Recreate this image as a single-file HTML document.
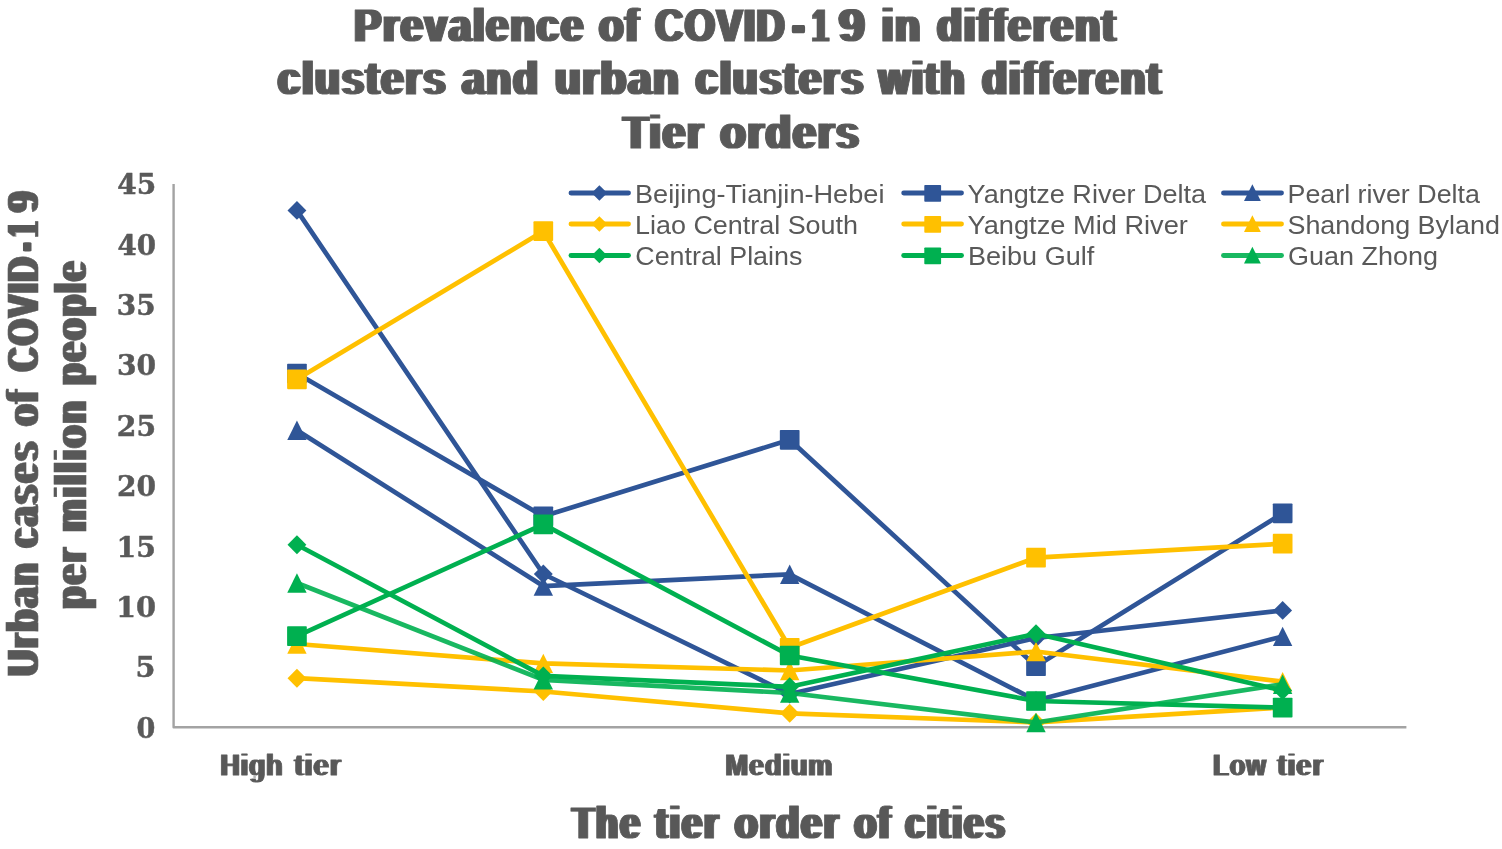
<!DOCTYPE html>
<html lang="en">
<head>
<meta charset="utf-8">
<title>Prevalence of COVID-19 in different clusters and urban clusters with different Tier orders</title>
<style>
html,body{margin:0;padding:0;background:#fff;}
body{width:1502px;height:849px;overflow:hidden;}
svg{display:block;}
</style>
</head>
<body>
<svg width="1502" height="849" viewBox="0 0 1502 849" role="img" aria-label="Line chart">
<rect width="1502" height="849" fill="#fff"/>
<polyline points="173.6,184.0 173.6,727.2 1406.4,727.2" fill="none" stroke="#A3A3A3" stroke-width="2.4" stroke-linejoin="round"/>
<g><polyline points="296.95,210.4 543.30,574.0 789.70,694.0 1036.00,638.0 1282.65,610.4" fill="none" stroke="#2F5597" stroke-width="4.7" stroke-linejoin="round" stroke-linecap="round"/>
<path d="M287.50 210.40L296.95 200.95L306.40 210.40L296.95 219.85Z" fill="#2F5597"/>
<path d="M533.85 574.00L543.30 564.55L552.75 574.00L543.30 583.45Z" fill="#2F5597"/>
<path d="M780.25 694.00L789.70 684.55L799.15 694.00L789.70 703.45Z" fill="#2F5597"/>
<path d="M1026.55 638.00L1036.00 628.55L1045.45 638.00L1036.00 647.45Z" fill="#2F5597"/>
<path d="M1273.20 610.40L1282.65 600.95L1292.10 610.40L1282.65 619.85Z" fill="#2F5597"/>
</g>
<g><polyline points="296.95,373.5 543.30,516.3 789.70,439.8 1036.00,666.2 1282.65,513.3" fill="none" stroke="#2F5597" stroke-width="4.7" stroke-linejoin="round" stroke-linecap="round"/>
<rect x="287.10" y="363.65" width="19.70" height="19.70" rx="0.8" fill="#2F5597"/>
<rect x="533.45" y="506.45" width="19.70" height="19.70" rx="0.8" fill="#2F5597"/>
<rect x="779.85" y="429.95" width="19.70" height="19.70" rx="0.8" fill="#2F5597"/>
<rect x="1026.15" y="656.35" width="19.70" height="19.70" rx="0.8" fill="#2F5597"/>
<rect x="1272.80" y="503.45" width="19.70" height="19.70" rx="0.8" fill="#2F5597"/>
</g>
<g><polyline points="296.95,430.2 543.30,586.1 789.70,574.3 1036.00,700.5 1282.65,636.4" fill="none" stroke="#2F5597" stroke-width="4.7" stroke-linejoin="round" stroke-linecap="round"/>
<path d="M296.95 420.50L306.65 439.90L287.25 439.90Z" fill="#2F5597"/>
<path d="M543.30 576.40L553.00 595.80L533.60 595.80Z" fill="#2F5597"/>
<path d="M789.70 564.60L799.40 584.00L780.00 584.00Z" fill="#2F5597"/>
<path d="M1036.00 690.80L1045.70 710.20L1026.30 710.20Z" fill="#2F5597"/>
<path d="M1282.65 626.70L1292.35 646.10L1272.95 646.10Z" fill="#2F5597"/>
</g>
<g><polyline points="296.95,678.2 543.30,691.5 789.70,713.3 1036.00,722.4 1282.65,707.4" fill="none" stroke="#FFC000" stroke-width="4.7" stroke-linejoin="round" stroke-linecap="round"/>
<path d="M287.50 678.20L296.95 668.75L306.40 678.20L296.95 687.65Z" fill="#FFC000"/>
<path d="M533.85 691.50L543.30 682.05L552.75 691.50L543.30 700.95Z" fill="#FFC000"/>
<path d="M780.25 713.30L789.70 703.85L799.15 713.30L789.70 722.75Z" fill="#FFC000"/>
<path d="M1026.55 722.40L1036.00 712.95L1045.45 722.40L1036.00 731.85Z" fill="#FFC000"/>
<path d="M1273.20 707.40L1282.65 697.95L1292.10 707.40L1282.65 716.85Z" fill="#FFC000"/>
</g>
<g><polyline points="296.95,379.3 543.30,231.2 789.70,647.8 1036.00,557.7 1282.65,543.7" fill="none" stroke="#FFC000" stroke-width="4.7" stroke-linejoin="round" stroke-linecap="round"/>
<rect x="287.10" y="369.45" width="19.70" height="19.70" rx="0.8" fill="#FFC000"/>
<rect x="533.45" y="221.35" width="19.70" height="19.70" rx="0.8" fill="#FFC000"/>
<rect x="779.85" y="637.95" width="19.70" height="19.70" rx="0.8" fill="#FFC000"/>
<rect x="1026.15" y="547.85" width="19.70" height="19.70" rx="0.8" fill="#FFC000"/>
<rect x="1272.80" y="533.85" width="19.70" height="19.70" rx="0.8" fill="#FFC000"/>
</g>
<g><polyline points="296.95,644.0 543.30,663.4 789.70,670.5 1036.00,651.5 1282.65,681.7" fill="none" stroke="#FFC000" stroke-width="4.7" stroke-linejoin="round" stroke-linecap="round"/>
<path d="M296.95 634.30L306.65 653.70L287.25 653.70Z" fill="#FFC000"/>
<path d="M543.30 653.70L553.00 673.10L533.60 673.10Z" fill="#FFC000"/>
<path d="M789.70 660.80L799.40 680.20L780.00 680.20Z" fill="#FFC000"/>
<path d="M1036.00 641.80L1045.70 661.20L1026.30 661.20Z" fill="#FFC000"/>
<path d="M1282.65 672.00L1292.35 691.40L1272.95 691.40Z" fill="#FFC000"/>
</g>
<g><polyline points="296.95,544.7 543.30,675.9 789.70,686.8 1036.00,633.8 1282.65,690.5" fill="none" stroke="#00B050" stroke-width="4.7" stroke-linejoin="round" stroke-linecap="round"/>
<path d="M287.50 544.70L296.95 535.25L306.40 544.70L296.95 554.15Z" fill="#00B050"/>
<path d="M533.85 675.90L543.30 666.45L552.75 675.90L543.30 685.35Z" fill="#00B050"/>
<path d="M780.25 686.80L789.70 677.35L799.15 686.80L789.70 696.25Z" fill="#00B050"/>
<path d="M1026.55 633.80L1036.00 624.35L1045.45 633.80L1036.00 643.25Z" fill="#00B050"/>
<path d="M1273.20 690.50L1282.65 681.05L1292.10 690.50L1282.65 699.95Z" fill="#00B050"/>
</g>
<g><polyline points="296.95,636.1 543.30,524.4 789.70,655.5 1036.00,701.0 1282.65,707.6" fill="none" stroke="#00B050" stroke-width="4.7" stroke-linejoin="round" stroke-linecap="round"/>
<rect x="287.10" y="626.25" width="19.70" height="19.70" rx="0.8" fill="#00B050"/>
<rect x="533.45" y="514.55" width="19.70" height="19.70" rx="0.8" fill="#00B050"/>
<rect x="779.85" y="645.65" width="19.70" height="19.70" rx="0.8" fill="#00B050"/>
<rect x="1026.15" y="691.15" width="19.70" height="19.70" rx="0.8" fill="#00B050"/>
<rect x="1272.80" y="697.75" width="19.70" height="19.70" rx="0.8" fill="#00B050"/>
</g>
<g><polyline points="296.95,583.0 543.30,679.8 789.70,693.0 1036.00,722.5 1282.65,684.2" fill="none" stroke="#00B050" stroke-opacity="0.9" stroke-width="4.7" stroke-linejoin="round" stroke-linecap="round"/>
<path d="M296.95 573.30L306.65 592.70L287.25 592.70Z" fill="#00B050"/>
<path d="M543.30 670.10L553.00 689.50L533.60 689.50Z" fill="#00B050"/>
<path d="M789.70 683.30L799.40 702.70L780.00 702.70Z" fill="#00B050"/>
<path d="M1036.00 712.80L1045.70 732.20L1026.30 732.20Z" fill="#00B050"/>
<path d="M1282.65 674.50L1292.35 693.90L1272.95 693.90Z" fill="#00B050"/>
</g>
<line x1="571.0" y1="193.0" x2="628.5" y2="193.0" stroke="#2F5597" stroke-width="4.9" stroke-linecap="round"/>
<path d="M591.60 193.00L599.40 185.20L607.20 193.00L599.40 200.80Z" fill="#2F5597"/>
<line x1="571.0" y1="224.0" x2="628.5" y2="224.0" stroke="#FFC000" stroke-width="4.9" stroke-linecap="round"/>
<path d="M591.60 224.00L599.40 216.20L607.20 224.00L599.40 231.80Z" fill="#FFC000"/>
<line x1="571.0" y1="255.5" x2="628.5" y2="255.5" stroke="#00B050" stroke-width="4.9" stroke-linecap="round"/>
<path d="M591.60 255.50L599.40 247.70L607.20 255.50L599.40 263.30Z" fill="#00B050"/>
<line x1="903.7" y1="193.0" x2="961.5" y2="193.0" stroke="#2F5597" stroke-width="4.9" stroke-linecap="round"/>
<rect x="924.30" y="184.90" width="16.80" height="16.80" rx="0.8" fill="#2F5597"/>
<line x1="903.7" y1="224.0" x2="961.5" y2="224.0" stroke="#FFC000" stroke-width="4.9" stroke-linecap="round"/>
<rect x="924.30" y="215.90" width="16.80" height="16.80" rx="0.8" fill="#FFC000"/>
<line x1="903.7" y1="255.5" x2="961.5" y2="255.5" stroke="#00B050" stroke-width="4.9" stroke-linecap="round"/>
<rect x="924.30" y="247.40" width="16.80" height="16.80" rx="0.8" fill="#00B050"/>
<line x1="1223.5" y1="193.0" x2="1281.5" y2="193.0" stroke="#2F5597" stroke-width="4.9" stroke-linecap="round"/>
<path d="M1252.40 184.20L1260.80 201.00L1244.00 201.00Z" fill="#2F5597"/>
<line x1="1223.5" y1="224.0" x2="1281.5" y2="224.0" stroke="#FFC000" stroke-width="4.9" stroke-linecap="round"/>
<path d="M1252.40 215.20L1260.80 232.00L1244.00 232.00Z" fill="#FFC000"/>
<line x1="1223.5" y1="255.5" x2="1281.5" y2="255.5" stroke="#00B050" stroke-opacity="0.9" stroke-width="4.9" stroke-linecap="round"/>
<path d="M1252.40 246.70L1260.80 263.50L1244.00 263.50Z" fill="#00B050"/>
<filter id="h21" filterUnits="userSpaceOnUse" x="0" y="0" width="1502" height="849"><feMorphology operator="dilate" radius="2 0"/><feMorphology operator="erode" radius="0 1"/></filter>
<g filter="url(#h21)">
<text y="42.20" font-family="'Liberation Sans', sans-serif" font-weight="bold" font-size="48.84" fill="#595959" letter-spacing="2.5" stroke="#595959" stroke-width="1.0" stroke-linejoin="round"><tspan x="354.59" textLength="230.54" lengthAdjust="spacingAndGlyphs">Prevalence</tspan> <tspan x="599.19" textLength="41.28" lengthAdjust="spacingAndGlyphs">of</tspan> <tspan x="655.48" textLength="130.94" lengthAdjust="spacingAndGlyphs">COVID</tspan><tspan x="794.07" textLength="10.26" lengthAdjust="spacingAndGlyphs" stroke-width="4.6">-</tspan><tspan x="812.40" textLength="16.94" lengthAdjust="spacingAndGlyphs">1</tspan><tspan x="839.04" textLength="27.85" lengthAdjust="spacingAndGlyphs">9</tspan> <tspan x="881.95" textLength="40.03" lengthAdjust="spacingAndGlyphs">in</tspan> <tspan x="937.26" textLength="180.26" lengthAdjust="spacingAndGlyphs">different</tspan></text>
<text y="95.00" font-family="'Liberation Sans', sans-serif" font-weight="bold" font-size="48.84" fill="#595959" letter-spacing="2.5" stroke="#595959" stroke-width="1.0" stroke-linejoin="round"><tspan x="278.00" textLength="169.40" lengthAdjust="spacingAndGlyphs">clusters</tspan> <tspan x="462.27" textLength="77.41" lengthAdjust="spacingAndGlyphs">and</tspan> <tspan x="555.17" textLength="125.53" lengthAdjust="spacingAndGlyphs">urban</tspan> <tspan x="695.63" textLength="169.51" lengthAdjust="spacingAndGlyphs">clusters</tspan> <tspan x="879.11" textLength="87.42" lengthAdjust="spacingAndGlyphs">with</tspan> <tspan x="982.16" textLength="180.61" lengthAdjust="spacingAndGlyphs">different</tspan></text>
<text y="148.80" font-family="'Liberation Sans', sans-serif" font-weight="bold" font-size="48.84" fill="#595959" letter-spacing="2.5" stroke="#595959" stroke-width="1.0" stroke-linejoin="round"><tspan x="623.56" textLength="81.31" lengthAdjust="spacingAndGlyphs">Tier</tspan> <tspan x="720.56" textLength="140.33" lengthAdjust="spacingAndGlyphs">orders</tspan></text>
<text y="839.05" font-family="'Liberation Sans', sans-serif" font-weight="bold" font-size="45.36" fill="#595959" letter-spacing="2.8" stroke="#595959" stroke-width="0.9" stroke-linejoin="round"><tspan x="572.58" textLength="69.41" lengthAdjust="spacingAndGlyphs">The</tspan> <tspan x="655.47" textLength="65.06" lengthAdjust="spacingAndGlyphs">tier</tspan> <tspan x="734.99" textLength="105.66" lengthAdjust="spacingAndGlyphs">order</tspan> <tspan x="854.44" textLength="37.99" lengthAdjust="spacingAndGlyphs">of</tspan> <tspan x="905.57" textLength="101.40" lengthAdjust="spacingAndGlyphs">cities</tspan></text>
</g>
<filter id="v21" filterUnits="userSpaceOnUse" x="0" y="0" width="1502" height="849"><feMorphology operator="dilate" radius="0 2"/><feMorphology operator="erode" radius="1 0"/></filter>
<g filter="url(#v21)">
<g transform="rotate(-90)"><text y="39.00" font-family="'Liberation Sans', sans-serif" font-weight="bold" font-size="46.52" fill="#595959" letter-spacing="3.2" stroke="#595959" stroke-width="0.6" stroke-linejoin="round"><tspan x="-675.86" textLength="114.89" lengthAdjust="spacingAndGlyphs">Urban</tspan> <tspan x="-547.23" textLength="107.73" lengthAdjust="spacingAndGlyphs">cases</tspan> <tspan x="-425.59" textLength="36.91" lengthAdjust="spacingAndGlyphs">of</tspan> <tspan x="-371.00" textLength="115.80" lengthAdjust="spacingAndGlyphs">COVID</tspan><tspan x="-249.16" textLength="5.78" lengthAdjust="spacingAndGlyphs" stroke-width="5.0">-</tspan><tspan x="-235.93" textLength="14.98" lengthAdjust="spacingAndGlyphs">1</tspan><tspan x="-211.97" textLength="23.04" lengthAdjust="spacingAndGlyphs">9</tspan></text></g>
<g transform="rotate(-90)"><text y="86.50" font-family="'Liberation Sans', sans-serif" font-weight="bold" font-size="46.52" fill="#595959" letter-spacing="3.2" stroke="#595959" stroke-width="0.6" stroke-linejoin="round"><tspan x="-608.44" textLength="62.43" lengthAdjust="spacingAndGlyphs">per</tspan> <tspan x="-531.50" textLength="132.53" lengthAdjust="spacingAndGlyphs">million</tspan> <tspan x="-384.68" textLength="125.43" lengthAdjust="spacingAndGlyphs">people</tspan></text></g>
</g>
<filter id="h11" filterUnits="userSpaceOnUse" x="0" y="0" width="1502" height="849"><feMorphology operator="dilate" radius="1 0"/><feMorphology operator="erode" radius="0 1"/></filter>
<g filter="url(#h11)">
<text y="775.50" font-family="'Liberation Sans', sans-serif" font-weight="bold" font-size="32.03" fill="#595959" letter-spacing="1.2" stroke="#595959" stroke-width="0.8" stroke-linejoin="round"><tspan x="220.44" textLength="63.04" lengthAdjust="spacingAndGlyphs">High</tspan> <tspan x="294.49" textLength="47.24" lengthAdjust="spacingAndGlyphs">tier</tspan></text>
<text y="775.50" font-family="'Liberation Sans', sans-serif" font-weight="bold" font-size="32.03" fill="#595959" letter-spacing="1.2" stroke="#595959" stroke-width="0.8" stroke-linejoin="round"><tspan x="725.42" textLength="107.96" lengthAdjust="spacingAndGlyphs">Medium</tspan></text>
<text y="775.50" font-family="'Liberation Sans', sans-serif" font-weight="bold" font-size="32.03" fill="#595959" letter-spacing="1.2" stroke="#595959" stroke-width="0.8" stroke-linejoin="round"><tspan x="1213.33" textLength="53.55" lengthAdjust="spacingAndGlyphs">Low</tspan> <tspan x="1277.61" textLength="46.39" lengthAdjust="spacingAndGlyphs">tier</tspan></text>
</g>
<g>
<text y="202.90" font-family="'Liberation Sans', sans-serif" font-weight="normal" font-size="25.8" fill="#595959"><tspan x="635.00" textLength="249.44" lengthAdjust="spacingAndGlyphs">Beijing-Tianjin-Hebei</tspan></text>
<text y="233.60" font-family="'Liberation Sans', sans-serif" font-weight="normal" font-size="25.8" fill="#595959"><tspan x="635.04" textLength="222.99" lengthAdjust="spacingAndGlyphs">Liao Central South</tspan></text>
<text y="264.70" font-family="'Liberation Sans', sans-serif" font-weight="normal" font-size="25.8" fill="#595959"><tspan x="635.34" textLength="167.00" lengthAdjust="spacingAndGlyphs">Central Plains</tspan></text>
<text y="202.90" font-family="'Liberation Sans', sans-serif" font-weight="normal" font-size="25.8" fill="#595959"><tspan x="967.60" textLength="238.53" lengthAdjust="spacingAndGlyphs">Yangtze River Delta</tspan></text>
<text y="233.60" font-family="'Liberation Sans', sans-serif" font-weight="normal" font-size="25.8" fill="#595959"><tspan x="967.59" textLength="220.33" lengthAdjust="spacingAndGlyphs">Yangtze Mid River</tspan></text>
<text y="264.70" font-family="'Liberation Sans', sans-serif" font-weight="normal" font-size="25.8" fill="#595959"><tspan x="968.03" textLength="126.25" lengthAdjust="spacingAndGlyphs">Beibu Gulf</tspan></text>
<text y="202.90" font-family="'Liberation Sans', sans-serif" font-weight="normal" font-size="25.8" fill="#595959"><tspan x="1287.51" textLength="192.43" lengthAdjust="spacingAndGlyphs">Pearl river Delta</tspan></text>
<text y="233.60" font-family="'Liberation Sans', sans-serif" font-weight="normal" font-size="25.8" fill="#595959"><tspan x="1287.44" textLength="212.42" lengthAdjust="spacingAndGlyphs">Shandong Byland</tspan></text>
<text y="264.70" font-family="'Liberation Sans', sans-serif" font-weight="normal" font-size="25.8" fill="#595959"><tspan x="1287.98" textLength="150.01" lengthAdjust="spacingAndGlyphs">Guan Zhong</tspan></text>
<text y="737.60" font-family="'DejaVu Serif', 'Liberation Serif', serif" font-weight="bold" font-size="27.3" fill="#595959" stroke="#595959" stroke-width="0.5" stroke-linejoin="round"><tspan x="136.56" textLength="18.82" lengthAdjust="spacingAndGlyphs">0</tspan></text>
<text y="677.24" font-family="'DejaVu Serif', 'Liberation Serif', serif" font-weight="bold" font-size="27.3" fill="#595959" stroke="#595959" stroke-width="0.5" stroke-linejoin="round"><tspan x="135.57" textLength="19.98" lengthAdjust="spacingAndGlyphs">5</tspan></text>
<text y="616.89" font-family="'DejaVu Serif', 'Liberation Serif', serif" font-weight="bold" font-size="27.3" fill="#595959" stroke="#595959" stroke-width="0.5" stroke-linejoin="round"><tspan x="115.93" textLength="40.09" lengthAdjust="spacingAndGlyphs">10</tspan></text>
<text y="556.53" font-family="'DejaVu Serif', 'Liberation Serif', serif" font-weight="bold" font-size="27.3" fill="#595959" stroke="#595959" stroke-width="0.5" stroke-linejoin="round"><tspan x="116.62" textLength="39.35" lengthAdjust="spacingAndGlyphs">15</tspan></text>
<text y="496.18" font-family="'DejaVu Serif', 'Liberation Serif', serif" font-weight="bold" font-size="27.3" fill="#595959" stroke="#595959" stroke-width="0.5" stroke-linejoin="round"><tspan x="116.90" textLength="39.03" lengthAdjust="spacingAndGlyphs">20</tspan></text>
<text y="435.82" font-family="'DejaVu Serif', 'Liberation Serif', serif" font-weight="bold" font-size="27.3" fill="#595959" stroke="#595959" stroke-width="0.5" stroke-linejoin="round"><tspan x="116.87" textLength="39.26" lengthAdjust="spacingAndGlyphs">25</tspan></text>
<text y="375.47" font-family="'DejaVu Serif', 'Liberation Serif', serif" font-weight="bold" font-size="27.3" fill="#595959" stroke="#595959" stroke-width="0.5" stroke-linejoin="round"><tspan x="116.91" textLength="39.07" lengthAdjust="spacingAndGlyphs">30</tspan></text>
<text y="315.11" font-family="'DejaVu Serif', 'Liberation Serif', serif" font-weight="bold" font-size="27.3" fill="#595959" stroke="#595959" stroke-width="0.5" stroke-linejoin="round"><tspan x="116.83" textLength="38.77" lengthAdjust="spacingAndGlyphs">35</tspan></text>
<text y="254.76" font-family="'DejaVu Serif', 'Liberation Serif', serif" font-weight="bold" font-size="27.3" fill="#595959" stroke="#595959" stroke-width="0.5" stroke-linejoin="round"><tspan x="117.43" textLength="38.55" lengthAdjust="spacingAndGlyphs">40</tspan></text>
<text y="194.40" font-family="'DejaVu Serif', 'Liberation Serif', serif" font-weight="bold" font-size="27.3" fill="#595959" stroke="#595959" stroke-width="0.5" stroke-linejoin="round"><tspan x="117.25" textLength="39.02" lengthAdjust="spacingAndGlyphs">45</tspan></text>
</g>
</svg>
</body>
</html>
